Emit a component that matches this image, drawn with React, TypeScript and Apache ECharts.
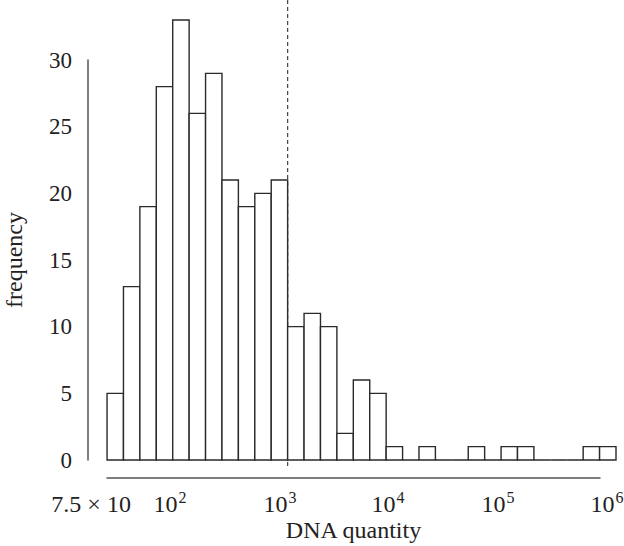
import React, { useEffect, useRef } from "react";
import * as echarts from "echarts";

// Histogram counts per bin (31 equal-width log bins)
const binCounts = [5, 13, 19, 28, 33, 26, 29, 21, 19, 20, 21, 10, 11, 10, 2, 6, 5, 1, 0, 1, 0, 0, 1, 0, 1, 1, 0, 0, 0, 1, 1];
// x tick labels (base and superscript exponent) and their locations in bin units
const tickBases = ["7.5 × 10", "10", "10", "10", "10", "10"];
const tickExps = ["", "2", "3", "4", "5", "6"];
const tickLocations = [-0.97, 3.84, 10.54, 17.11, 23.81, 30.45];
// reference line at 10^3 (edge of bin 11)
const refBin = 11;
const yTicks = { min: 0, max: 30, step: 5 };

const FONT = "'Liberation Serif', 'Times New Roman', serif";
const INK = "#222";

export default function App() {
  const ref = useRef<HTMLDivElement>(null);
  useEffect(() => {
    if (!ref.current) return;
    const chart = echarts.init(ref.current, null, { renderer: "svg" });
    const barData = binCounts.map((c, i) => [i, c]);
    const option = {
      animation: false,
      backgroundColor: "#fff",
      grid: [
        { left: 88, right: 8, top: 60, bottom: 86, outerBoundsMode: "none", containLabel: false },
        { left: 107, right: 24, top: 60, bottom: 86, outerBoundsMode: "none", containLabel: false },
      ],
      xAxis: [
        {
          type: "value",
          gridIndex: 0,
          min: -1.16,
          max: binCounts.length,
          axisLine: { show: false, onZero: false },
          axisTick: { show: false },
          splitLine: { show: false },
          axisLabel: {
            customValues: tickLocations,
            margin: 29,
            color: INK,
            fontFamily: FONT,
            fontSize: 24,
            formatter: (v: number) => {
              const idx = tickLocations.findIndex((p) => Math.abs(p - v) < 1e-6);
              if (idx < 0) return "";
              return tickExps[idx]
                ? `{b|${tickBases[idx]}}{s|${tickExps[idx]}}`
                : `{b|${tickBases[idx]}}`;
            },
            rich: {
              b: { fontFamily: FONT, fontSize: 24, color: INK, lineHeight: 27, verticalAlign: "bottom" },
              s: { fontFamily: FONT, fontSize: 16, color: INK, lineHeight: 27, verticalAlign: "top", padding: [0, 0, 0, 1] },
            },
          },
        },
        {
          type: "value",
          gridIndex: 1,
          min: 0,
          max: 1,
          offset: 18,
          axisLine: { show: true, onZero: false, lineStyle: { color: "#555", width: 1.5 } },
          axisTick: { show: false },
          axisLabel: { show: false },
          splitLine: { show: false },
          name: "DNA quantity",
          nameLocation: "middle",
          nameGap: 40,
          nameTextStyle: { fontFamily: FONT, fontSize: 24, color: INK },
        },
      ],
      yAxis: [
        {
          type: "value",
          gridIndex: 0,
          min: yTicks.min,
          max: yTicks.max,
          interval: yTicks.step,
          axisLine: { show: true, onZero: false, lineStyle: { color: "#555", width: 1.5 } },
          axisTick: { show: false },
          splitLine: { show: false },
          axisLabel: { margin: 16, color: INK, fontFamily: FONT, fontSize: 23 },
          name: "frequency",
          nameLocation: "middle",
          nameGap: 62,
          nameRotate: 90,
          nameTextStyle: { fontFamily: FONT, fontSize: 24, color: INK },
        },
        { type: "value", gridIndex: 1, show: false, min: 0, max: 1 },
      ],
      series: [
        {
          type: "line",
          xAxisIndex: 0,
          yAxisIndex: 0,
          clip: false,
          symbol: "none",
          z: 1,
          lineStyle: { color: "#444", width: 1.2, type: [4, 3] },
          data: [
            [refBin, 34.5],
            [refBin, -0.6],
          ],
        },
        {
          type: "custom",
          xAxisIndex: 0,
          yAxisIndex: 0,
          clip: false,
          z: 2,
          data: barData,
          renderItem: (params: any, api: any) => {
            const i = api.value(0);
            const c = api.value(1);
            const p0 = api.coord([i, c]);
            const p1 = api.coord([i + 1, 0]);
            return {
              type: "rect",
              shape: { x: p0[0], y: p0[1], width: p1[0] - p0[0], height: p1[1] - p0[1] },
              style: { fill: "#fff", stroke: "#2a2a2a", lineWidth: 1.4 },
            };
          },
        },
      ],
    };
    chart.setOption(option as any);
    return () => chart.dispose();
  }, []);
  return <div ref={ref} style={{ position: "fixed", left: 0, top: 0, width: 624, height: 546 }} />;
}
